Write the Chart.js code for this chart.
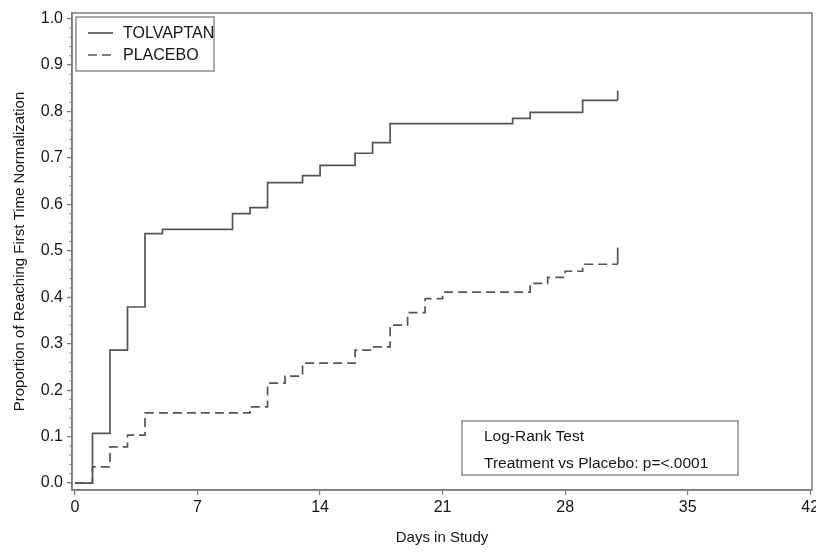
<!DOCTYPE html>
<html>
<head>
<meta charset="utf-8">
<title>Time to First Normalization</title>
<script src="https://cdn.jsdelivr.net/npm/chart.js@4/dist/chart.umd.min.js"></script>
<style>
  html, body { margin: 0; padding: 0; background: #fff; }
  #wrap { width: 816px; height: 552px; }
</style>
</head>
<body>
<div id="wrap"><canvas id="km" width="816" height="552"></canvas></div>
<script>
// Kaplan-Meier style cumulative proportions (value holds from that day onward)
const tolvaptanDays = [0, 1, 2, 3, 4, 5, 9, 10, 11, 13, 14, 16, 17, 18, 25, 26, 29, 31];
const tolvaptanProp = [0, 0.107, 0.286, 0.379, 0.537, 0.546, 0.580, 0.593, 0.647, 0.662, 0.684, 0.710, 0.733, 0.774, 0.785, 0.798, 0.824, 0.824];

const placeboDays = [0, 1, 2, 3, 4, 10, 11, 12, 13, 16, 17, 18, 19, 20, 21, 26, 27, 28, 29, 31];
const placeboProp = [0, 0.035, 0.078, 0.103, 0.151, 0.164, 0.215, 0.230, 0.258, 0.286, 0.293, 0.340, 0.367, 0.397, 0.411, 0.430, 0.443, 0.456, 0.471, 0.471];

// censoring marks at end of follow-up
const censorDay = 31;
const tolvaptanCensorTop = 0.845;
const placeboCensorTop = 0.507;

const xTicks = [0, 7, 14, 21, 28, 35, 42];
const yTicks = [0, 0.1, 0.2, 0.3, 0.4, 0.5, 0.6, 0.7, 0.8, 0.9, 1.0];

const seriesNames = ['TOLVAPTAN', 'PLACEBO'];
const statsLines = ['Log-Rank Test', 'Treatment vs Placebo: p=<.0001'];

const FONT = "'Liberation Sans', Arial, Helvetica, sans-serif";
const INK = '#161616';
const LINE = '#555555';
const FRAME = '#7c7c7c';
const PLACEBO_DASH = [9, 5];

const toPoints = (xs, ys) => xs.map((x, i) => ({ x: x, y: ys[i] }));

// frame around the plot plus minor ticks on the y axis
const framePlugin = {
  id: 'frame',
  afterDatasetsDraw(chart) {
    const { ctx, chartArea: a } = chart;
    const ys = chart.scales.y;
    ctx.save();
    ctx.strokeStyle = FRAME;
    ctx.lineWidth = 1.5;
    ctx.strokeRect(a.left, a.top, a.right - a.left, a.bottom - a.top);
    ctx.lineWidth = 1;
    for (let i = 0; i <= 50; i++) {
      const p = ys.getPixelForValue(i / 50);
      ctx.beginPath();
      ctx.moveTo(a.left, p);
      ctx.lineTo(a.left - 2.5, p);
      ctx.stroke();
    }
    ctx.restore();
  }
};

// boxed legend in the upper-left corner of the plot
const legendBoxPlugin = {
  id: 'legendBox',
  afterDraw(chart) {
    const { ctx, chartArea: a } = chart;
    const x0 = a.left + 4, y0 = a.top + 4, w = 138, h = 54;
    ctx.save();
    ctx.strokeStyle = FRAME;
    ctx.lineWidth = 1.3;
    ctx.strokeRect(x0, y0, w, h);
    ctx.font = '16px ' + FONT;
    ctx.fillStyle = INK;
    ctx.textBaseline = 'middle';
    seriesNames.forEach((name, i) => {
      const ds = chart.data.datasets[i];
      const cy = y0 + 16 + i * 22;
      ctx.strokeStyle = ds.borderColor;
      ctx.lineWidth = ds.borderWidth;
      ctx.setLineDash(ds.borderDash || []);
      ctx.beginPath();
      ctx.moveTo(x0 + 12, cy);
      ctx.lineTo(x0 + 37, cy);
      ctx.stroke();
      ctx.setLineDash([]);
      ctx.fillText(name, x0 + 47, cy + 1);
    });
    ctx.restore();
  }
};

// log-rank test result box, lower right
const statsBoxPlugin = {
  id: 'statsBox',
  afterDraw(chart) {
    const { ctx, chartArea: a } = chart;
    const x0 = a.left + 390, x1 = a.right - 74;
    const y0 = a.bottom - 69, y1 = a.bottom - 15;
    ctx.save();
    ctx.strokeStyle = FRAME;
    ctx.lineWidth = 1.3;
    ctx.strokeRect(x0, y0, x1 - x0, y1 - y0);
    ctx.font = '15.5px ' + FONT;
    ctx.fillStyle = INK;
    ctx.textBaseline = 'middle';
    ctx.fillText(statsLines[0], x0 + 22, y0 + 16);
    ctx.fillText(statsLines[1], x0 + 22, y0 + 43);
    ctx.restore();
  }
};

const lineStyle = {
  borderColor: LINE,
  borderWidth: 1.7,
  pointRadius: 0,
  fill: false,
  tension: 0
};

// keep the plot edges fixed regardless of edge tick label widths
const noEdgePadding = s => { s.paddingLeft = 0; s.paddingRight = 0; s.paddingTop = 0; s.paddingBottom = 0; };

new Chart(document.getElementById('km'), {
  type: 'line',
  data: {
    datasets: [
      Object.assign({ label: seriesNames[0], data: toPoints(tolvaptanDays, tolvaptanProp), stepped: 'before' }, lineStyle),
      Object.assign({ label: seriesNames[1], data: toPoints(placeboDays, placeboProp), stepped: 'before', borderDash: PLACEBO_DASH }, lineStyle),
      Object.assign({ label: 'censor-t', data: [{ x: censorDay, y: tolvaptanProp[tolvaptanProp.length - 1] }, { x: censorDay, y: tolvaptanCensorTop }] }, lineStyle),
      Object.assign({ label: 'censor-p', data: [{ x: censorDay, y: placeboProp[placeboProp.length - 1] }, { x: censorDay, y: placeboCensorTop }] }, lineStyle)
    ]
  },
  options: {
    responsive: false,
    devicePixelRatio: 1,
    animation: false,
    layout: { padding: { top: 13, right: 4, left: 0, bottom: 0 } },
    plugins: {
      legend: { display: false },
      tooltip: { enabled: false }
    },
    scales: {
      x: {
        type: 'linear',
        min: -0.17,
        max: 42.1,
        afterBuildTicks: s => { s.ticks = xTicks.map(v => ({ value: v })); },
        afterFit: s => { s.height = 62; noEdgePadding(s); },
        ticks: { font: { family: FONT, size: 16 }, color: INK, padding: 3, maxRotation: 0, autoSkip: false },
        grid: { drawOnChartArea: false, drawTicks: true, tickLength: 5, color: FRAME, lineWidth: 1.2 },
        border: { display: true, color: FRAME, width: 1.5 },
        title: { display: true, text: 'Days in Study', font: { family: FONT, size: 15 }, color: INK, padding: { top: 0, bottom: 5 } }
      },
      y: {
        type: 'linear',
        min: -0.015,
        max: 1.012,
        afterBuildTicks: s => { s.ticks = yTicks.map(v => ({ value: v })); },
        afterFit: s => { s.width = 72; noEdgePadding(s); },
        ticks: { font: { family: FONT, size: 16 }, color: INK, padding: 4, callback: v => Number(v).toFixed(1), autoSkip: false },
        grid: { drawOnChartArea: false, drawTicks: true, tickLength: 5, color: FRAME, lineWidth: 1.2 },
        border: { display: true, color: FRAME, width: 1.5 },
        title: { display: true, text: 'Proportion of Reaching First Time Normalization', font: { family: FONT, size: 15 }, color: INK, padding: { top: 11, bottom: 0 } }
      }
    }
  },
  plugins: [framePlugin, legendBoxPlugin, statsBoxPlugin]
});
</script>
</body>
</html>
